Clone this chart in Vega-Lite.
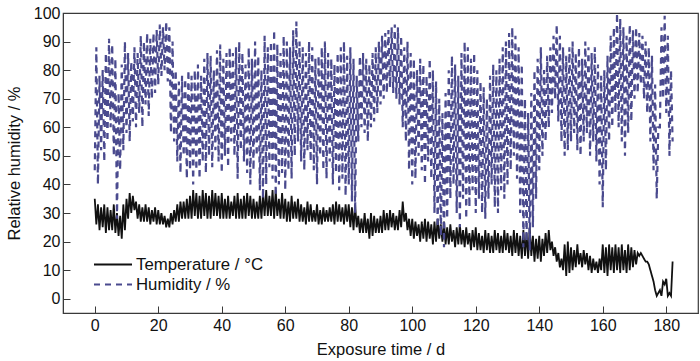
{
  "$schema": "https://vega.github.io/schema/vega-lite/v6.json",
  "width": 635,
  "height": 300,
  "autosize": {"type": "none"},
  "padding": {"left": 63, "top": 13, "right": 2, "bottom": 48},
  "background": "white",
  "config": {
    "font": "Liberation Sans",
    "view": {"stroke": "#3a3a3a", "strokeWidth": 1.2},
    "axis": {
      "grid": false,
      "domainColor": "#3a3a3a",
      "tickColor": "#3a3a3a",
      "tickSize": -7,
      "labelFontSize": 16,
      "labelColor": "#111",
      "titleFontSize": 16.5,
      "titleFontWeight": "normal",
      "titleColor": "#111"
    },
    "legend": {
      "orient": "none",
      "legendX": 39.5,
      "legendY": 241,
      "title": null,
      "symbolType": "M-2,0H2",
      "symbolSize": 361,
      "symbolStrokeWidth": 2,
      "labelFontSize": 16.8,
      "labelColor": "#111",
      "labelOffset": 12.5,
      "rowPadding": 0,
      "padding": 0
    }
  },
  "data": {"values": [
{"d":0,"H":45,"T":35},{"d":0.5,"H":88,"T":26},
{"d":1,"H":40,"T":33},{"d":1.5,"H":78,"T":24},
{"d":2,"H":52,"T":32},{"d":2.5,"H":80,"T":25},
{"d":3,"H":48,"T":33},{"d":3.5,"H":86,"T":23},
{"d":4,"H":55,"T":32},{"d":4.5,"H":91,"T":24},
{"d":5,"H":60,"T":31},{"d":5.5,"H":89,"T":24},
{"d":6,"H":50,"T":33},{"d":6.5,"H":84,"T":23},
{"d":7,"H":28,"T":30},{"d":7.5,"H":72,"T":22},
{"d":8,"H":45,"T":29},{"d":8.5,"H":82,"T":21},
{"d":9,"H":52,"T":33},{"d":9.5,"H":90,"T":24},
{"d":10,"H":58,"T":35},{"d":10.5,"H":86,"T":28},
{"d":11,"H":55,"T":37},{"d":11.5,"H":83,"T":30},
{"d":12,"H":62,"T":36},{"d":12.5,"H":88,"T":31},
{"d":13,"H":60,"T":34},{"d":13.5,"H":86,"T":28},
{"d":14,"H":65,"T":33},{"d":14.5,"H":92,"T":27},
{"d":15,"H":60,"T":32},{"d":15.5,"H":90,"T":27},
{"d":16,"H":68,"T":33},{"d":16.5,"H":93,"T":27},
{"d":17,"H":64,"T":32},{"d":17.5,"H":91,"T":26},
{"d":18,"H":70,"T":31},{"d":18.5,"H":93,"T":27},
{"d":19,"H":72,"T":32},{"d":19.5,"H":94,"T":26},
{"d":20,"H":75,"T":31},{"d":20.5,"H":96,"T":26},
{"d":21,"H":78,"T":30},{"d":21.5,"H":95,"T":26},
{"d":22,"H":80,"T":29},{"d":22.5,"H":97,"T":25},
{"d":23,"H":76,"T":28},{"d":23.5,"H":95,"T":25},
{"d":24,"H":58,"T":30},{"d":24.5,"H":90,"T":26},
{"d":25,"H":55,"T":31},{"d":25.5,"H":80,"T":27},
{"d":26,"H":48,"T":33},{"d":26.5,"H":76,"T":27},
{"d":27,"H":44,"T":34},{"d":27.5,"H":78,"T":28},
{"d":28,"H":50,"T":34},{"d":28.5,"H":77,"T":28},
{"d":29,"H":42,"T":35},{"d":29.5,"H":80,"T":28},
{"d":30,"H":45,"T":36},{"d":30.5,"H":78,"T":28},
{"d":31,"H":40,"T":38},{"d":31.5,"H":80,"T":29},
{"d":32,"H":45,"T":37},{"d":32.5,"H":82,"T":28},
{"d":33,"H":42,"T":36},{"d":33.5,"H":78,"T":28},
{"d":34,"H":48,"T":38},{"d":34.5,"H":84,"T":29},
{"d":35,"H":44,"T":37},{"d":35.5,"H":86,"T":28},
{"d":36,"H":50,"T":36},{"d":36.5,"H":85,"T":28},
{"d":37,"H":46,"T":38},{"d":37.5,"H":80,"T":29},
{"d":38,"H":52,"T":37},{"d":38.5,"H":87,"T":29},
{"d":39,"H":48,"T":36},{"d":39.5,"H":89,"T":28},
{"d":40,"H":44,"T":37},{"d":40.5,"H":84,"T":28},
{"d":41,"H":50,"T":35},{"d":41.5,"H":86,"T":28},
{"d":42,"H":46,"T":36},{"d":42.5,"H":88,"T":28},
{"d":43,"H":55,"T":34},{"d":43.5,"H":86,"T":29},
{"d":44,"H":50,"T":36},{"d":44.5,"H":88,"T":28},
{"d":45,"H":42,"T":37},{"d":45.5,"H":90,"T":28},
{"d":46,"H":52,"T":35},{"d":46.5,"H":86,"T":28},
{"d":47,"H":48,"T":36},{"d":47.5,"H":82,"T":28},
{"d":48,"H":44,"T":37},{"d":48.5,"H":88,"T":29},
{"d":49,"H":40,"T":36},{"d":49.5,"H":84,"T":28},
{"d":50,"H":45,"T":35},{"d":50.5,"H":90,"T":28},
{"d":51,"H":50,"T":34},{"d":51.5,"H":85,"T":28},
{"d":52,"H":38,"T":36},{"d":52.5,"H":80,"T":28},
{"d":53,"H":35,"T":37},{"d":53.5,"H":92,"T":29},
{"d":54,"H":40,"T":38},{"d":54.5,"H":88,"T":29},
{"d":55,"H":46,"T":36},{"d":55.5,"H":90,"T":29},
{"d":56,"H":42,"T":38},{"d":56.5,"H":94,"T":28},
{"d":57,"H":36,"T":38},{"d":57.5,"H":89,"T":29},
{"d":58,"H":40,"T":35},{"d":58.5,"H":86,"T":28},
{"d":59,"H":44,"T":37},{"d":59.5,"H":92,"T":28},
{"d":60,"H":38,"T":35},{"d":60.5,"H":90,"T":27},
{"d":61,"H":45,"T":34},{"d":61.5,"H":88,"T":27},
{"d":62,"H":42,"T":36},{"d":62.5,"H":94,"T":28},
{"d":63,"H":50,"T":34},{"d":63.5,"H":97,"T":28},
{"d":64,"H":55,"T":35},{"d":64.5,"H":90,"T":27},
{"d":65,"H":48,"T":33},{"d":65.5,"H":88,"T":27},
{"d":66,"H":45,"T":32},{"d":66.5,"H":86,"T":26},
{"d":67,"H":52,"T":34},{"d":67.5,"H":90,"T":27},
{"d":68,"H":48,"T":33},{"d":68.5,"H":88,"T":27},
{"d":69,"H":45,"T":31},{"d":69.5,"H":84,"T":27},
{"d":70,"H":40,"T":33},{"d":70.5,"H":85,"T":26},
{"d":71,"H":50,"T":31},{"d":71.5,"H":88,"T":26},
{"d":72,"H":45,"T":32},{"d":72.5,"H":90,"T":27},
{"d":73,"H":42,"T":31},{"d":73.5,"H":86,"T":27},
{"d":74,"H":48,"T":32},{"d":74.5,"H":84,"T":27},
{"d":75,"H":40,"T":33},{"d":75.5,"H":82,"T":26},
{"d":76,"H":44,"T":34},{"d":76.5,"H":86,"T":27},
{"d":77,"H":38,"T":33},{"d":77.5,"H":88,"T":27},
{"d":78,"H":42,"T":32},{"d":78.5,"H":90,"T":26},
{"d":79,"H":36,"T":33},{"d":79.5,"H":85,"T":27},
{"d":80,"H":40,"T":33},{"d":80.5,"H":88,"T":25},
{"d":81,"H":34,"T":32},{"d":81.5,"H":84,"T":24},
{"d":82,"H":30,"T":33},{"d":82.5,"H":78,"T":25},
{"d":83,"H":55,"T":29},{"d":83.5,"H":85,"T":23},
{"d":84,"H":60,"T":28},{"d":84.5,"H":86,"T":23},
{"d":85,"H":58,"T":30},{"d":85.5,"H":84,"T":23},
{"d":86,"H":55,"T":28},{"d":86.5,"H":82,"T":21},
{"d":87,"H":60,"T":30},{"d":87.5,"H":86,"T":22},
{"d":88,"H":62,"T":29},{"d":88.5,"H":88,"T":23},
{"d":89,"H":65,"T":28},{"d":89.5,"H":90,"T":23},
{"d":90,"H":68,"T":29},{"d":90.5,"H":92,"T":23},
{"d":91,"H":70,"T":31},{"d":91.5,"H":93,"T":24},
{"d":92,"H":72,"T":30},{"d":92.5,"H":94,"T":24},
{"d":93,"H":74,"T":31},{"d":93.5,"H":95,"T":25},
{"d":94,"H":72,"T":30},{"d":94.5,"H":96,"T":24},
{"d":95,"H":70,"T":29},{"d":95.5,"H":95,"T":24},
{"d":96,"H":68,"T":31},{"d":96.5,"H":92,"T":25},
{"d":97,"H":60,"T":34},{"d":97.5,"H":88,"T":27},
{"d":98,"H":55,"T":30},{"d":98.5,"H":90,"T":24},
{"d":99,"H":45,"T":28},{"d":99.5,"H":86,"T":22},
{"d":100,"H":40,"T":28},{"d":100.5,"H":84,"T":21},
{"d":101,"H":42,"T":27},{"d":101.5,"H":80,"T":22},
{"d":102,"H":50,"T":26},{"d":102.5,"H":84,"T":20},
{"d":103,"H":45,"T":27},{"d":103.5,"H":82,"T":21},
{"d":104,"H":40,"T":28},{"d":104.5,"H":78,"T":20},
{"d":105,"H":48,"T":27},{"d":105.5,"H":84,"T":21},
{"d":106,"H":42,"T":26},{"d":106.5,"H":80,"T":19},
{"d":107,"H":30,"T":27},{"d":107.5,"H":76,"T":20},
{"d":108,"H":25,"T":28},{"d":108.5,"H":70,"T":21},
{"d":109,"H":22,"T":26},{"d":109.5,"H":65,"T":20},
{"d":110,"H":18,"T":27},{"d":110.5,"H":72,"T":19},
{"d":111,"H":28,"T":25},{"d":111.5,"H":80,"T":19},
{"d":112,"H":35,"T":26},{"d":112.5,"H":85,"T":20},
{"d":113,"H":40,"T":24},{"d":113.5,"H":82,"T":18},
{"d":114,"H":30,"T":25},{"d":114.5,"H":78,"T":19},
{"d":115,"H":25,"T":26},{"d":115.5,"H":86,"T":19},
{"d":116,"H":35,"T":24},{"d":116.5,"H":90,"T":18},
{"d":117,"H":28,"T":25},{"d":117.5,"H":88,"T":19},
{"d":118,"H":32,"T":23},{"d":118.5,"H":84,"T":17},
{"d":119,"H":38,"T":24},{"d":119.5,"H":86,"T":18},
{"d":120,"H":30,"T":25},{"d":120.5,"H":80,"T":17},
{"d":121,"H":35,"T":23},{"d":121.5,"H":76,"T":17},
{"d":122,"H":30,"T":22},{"d":122.5,"H":74,"T":16},
{"d":123,"H":28,"T":24},{"d":123.5,"H":70,"T":17},
{"d":124,"H":35,"T":23},{"d":124.5,"H":78,"T":16},
{"d":125,"H":40,"T":22},{"d":125.5,"H":82,"T":16},
{"d":126,"H":32,"T":24},{"d":126.5,"H":80,"T":17},
{"d":127,"H":30,"T":23},{"d":127.5,"H":84,"T":16},
{"d":128,"H":38,"T":22},{"d":128.5,"H":88,"T":16},
{"d":129,"H":35,"T":24},{"d":129.5,"H":90,"T":17},
{"d":130,"H":40,"T":23},{"d":130.5,"H":93,"T":16},
{"d":131,"H":45,"T":22},{"d":131.5,"H":95,"T":15},
{"d":132,"H":50,"T":24},{"d":132.5,"H":92,"T":16},
{"d":133,"H":42,"T":23},{"d":133.5,"H":88,"T":15},
{"d":134,"H":30,"T":22},{"d":134.5,"H":82,"T":14},
{"d":135,"H":18,"T":24},{"d":135.5,"H":70,"T":15},
{"d":136,"H":20,"T":23},{"d":136.5,"H":65,"T":14},
{"d":137,"H":17,"T":25},{"d":137.5,"H":72,"T":15},
{"d":138,"H":25,"T":22},{"d":138.5,"H":80,"T":13},
{"d":139,"H":35,"T":21},{"d":139.5,"H":84,"T":14},
{"d":140,"H":45,"T":22},{"d":140.5,"H":88,"T":13},
{"d":141,"H":50,"T":21},{"d":141.5,"H":80,"T":15},
{"d":142,"H":55,"T":23},{"d":142.5,"H":85,"T":16},
{"d":143,"H":60,"T":24},{"d":143.5,"H":88,"T":17},
{"d":144,"H":65,"T":20},{"d":144.5,"H":92,"T":15},
{"d":145,"H":70,"T":18},{"d":145.5,"H":96,"T":13},
{"d":146,"H":62,"T":16},{"d":146.5,"H":92,"T":11},
{"d":147,"H":55,"T":14},{"d":147.5,"H":88,"T":10},
{"d":148,"H":50,"T":19},{"d":148.5,"H":85,"T":8},
{"d":149,"H":52,"T":20},{"d":149.5,"H":88,"T":9},
{"d":150,"H":55,"T":18},{"d":150.5,"H":90,"T":10},
{"d":151,"H":58,"T":17},{"d":151.5,"H":86,"T":11},
{"d":152,"H":52,"T":19},{"d":152.5,"H":88,"T":12},
{"d":153,"H":50,"T":16},{"d":153.5,"H":84,"T":11},
{"d":154,"H":55,"T":17},{"d":154.5,"H":90,"T":12},
{"d":155,"H":58,"T":16},{"d":155.5,"H":88,"T":10},
{"d":156,"H":50,"T":15},{"d":156.5,"H":86,"T":9},
{"d":157,"H":55,"T":14},{"d":157.5,"H":88,"T":10},
{"d":158,"H":48,"T":13},{"d":158.5,"H":82,"T":9},
{"d":159,"H":40,"T":14},{"d":159.5,"H":78,"T":10},
{"d":160,"H":32,"T":19},{"d":160.5,"H":80,"T":9},
{"d":161,"H":45,"T":18},{"d":161.5,"H":85,"T":8},
{"d":162,"H":55,"T":19},{"d":162.5,"H":92,"T":10},
{"d":163,"H":60,"T":18},{"d":163.5,"H":95,"T":9},
{"d":164,"H":65,"T":19},{"d":164.5,"H":100,"T":10},
{"d":165,"H":60,"T":18},{"d":165.5,"H":98,"T":9},
{"d":166,"H":55,"T":19},{"d":166.5,"H":95,"T":10},
{"d":167,"H":50,"T":17},{"d":167.5,"H":92,"T":9},
{"d":168,"H":58,"T":19},{"d":168.5,"H":96,"T":10},
{"d":169,"H":62,"T":18},{"d":169.5,"H":94,"T":11},
{"d":170,"H":70,"T":17},{"d":170.5,"H":95,"T":12},
{"d":171,"H":72,"T":16},{"d":171.5,"H":93,"T":15},
{"d":172,"H":75,"T":16},{"d":172.5,"H":92,"T":15},
{"d":173,"H":70,"T":14},{"d":173.5,"H":90,"T":13},
{"d":174,"H":65,"T":13},{"d":174.5,"H":88,"T":12},
{"d":175,"H":55,"T":10},{"d":175.5,"H":85,"T":8},
{"d":176,"H":45,"T":6},{"d":176.5,"H":75,"T":3},
{"d":177,"H":35,"T":1},{"d":177.5,"H":60,"T":2},
{"d":178,"H":60,"T":3},{"d":178.5,"H":95,"T":1},
{"d":179,"H":70,"T":6},{"d":179.5,"H":99,"T":5},
{"d":180,"H":65,"T":7},{"d":180.5,"H":92,"T":1},
{"d":181,"H":50,"T":2},{"d":181.5,"H":80,"T":1},
{"d":182,"H":55,"T":13}
  ]},
  "encoding": {
    "x": {
      "field": "d", "type": "quantitative",
      "scale": {"domain": [-10, 190], "nice": false, "zero": false},
      "axis": {"values": [0,20,40,60,80,100,120,140,160,180], "title": "Exposure time / d", "labelPadding": 11, "titlePadding": 8}
    }
  },
  "layer": [
    {
      "mark": {"type": "line", "strokeWidth": 1.8, "interpolate": "linear"},
      "encoding": {
        "y": {
          "field": "T", "type": "quantitative",
          "scale": {"domain": [-5, 100], "nice": false, "zero": false},
          "axis": {"values": [0,10,20,30,40,50,60,70,80,90,100], "title": "Relative humidity / %", "labelPadding": 10, "titlePadding": 11, "labelOverlap": false}
        },
        "color": {
          "datum": "Temperature / °C",
          "scale": {"domain": ["Temperature / °C", "Humidity / %"], "range": ["#111111", "#4a4a8e"]}
        },
        "strokeDash": {
          "datum": "Temperature / °C",
          "scale": {"domain": ["Temperature / °C", "Humidity / %"], "range": [[1, 0], [6, 5]]}
        }
      }
    },
    {
      "mark": {"type": "line", "strokeWidth": 2.2},
      "encoding": {
        "y": {
          "field": "H", "type": "quantitative",
          "scale": {"domain": [-5, 100], "nice": false, "zero": false},
          "axis": {"values": [0,10,20,30,40,50,60,70,80,90,100], "title": "Relative humidity / %", "labelPadding": 10, "titlePadding": 11, "labelOverlap": false}
        },
        "color": {"datum": "Humidity / %"},
        "strokeDash": {"datum": "Humidity / %"}
      }
    }
  ],
  "resolve": {"scale": {"y": "shared"}}
}
